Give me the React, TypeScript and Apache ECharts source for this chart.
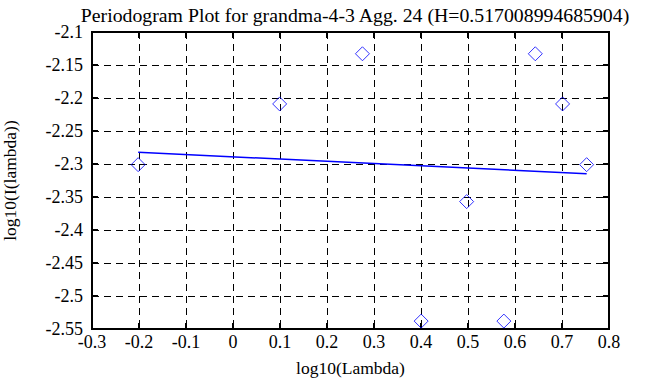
import React, { useEffect, useRef } from "react";
import * as echarts from "echarts";

const titleText = "Periodogram Plot for grandma-4-3 Agg. 24 (H=0.517008994685904)";
const xName = "log10(Lambda)";
const yName = "log10(I(lambda))";

const logLambda = [-0.2018, 0.0993, 0.2754, 0.4003, 0.4971, 0.5763, 0.6432, 0.7012, 0.7524];
const logPeriodogram = [-2.301, -2.209, -2.133, -2.538, -2.357, -2.538, -2.133, -2.209, -2.301];

const fitX = [-0.2018, 0.7524];
const fitY = [-2.2823, -2.3147];

const FONT = "Liberation Serif";

export default function App() {
  const ref = useRef<HTMLDivElement>(null);
  useEffect(() => {
    if (!ref.current) return;
    const chart = echarts.init(ref.current, undefined, { renderer: "svg" });
    const grid = { left: 92, right: 59, top: 32, bottom: 58 };
    const splitLine = { show: true, lineStyle: { color: "#000", width: 1, type: [7, 5] as any } };
    const axisLine = { show: true, onZero: false, lineStyle: { color: "#000", width: 2 } };
    const axisTick = { show: true, inside: true, length: 6, lineStyle: { color: "#000", width: 2 } };
    const labelStyle = { fontFamily: FONT, fontSize: 18, fontWeight: "normal", color: "#000" };
    chart.setOption({
      animation: false,
      backgroundColor: "#fff",
      textStyle: { fontFamily: FONT, color: "#000" },
      title: {
        text: titleText,
        left: 350,
        textAlign: "center",
        top: 0,
        textStyle: { fontFamily: FONT, fontSize: 19.8, fontWeight: "normal", color: "#000" },
      },
      grid: {
        ...grid,
        containLabel: false,
        outerBoundsMode: "none",
        show: true,
        borderColor: "#000",
        borderWidth: 2,
        backgroundColor: "transparent",
      },
      xAxis: [
        {
          type: "value",
          min: -0.3,
          max: 0.8,
          interval: 0.1,
          name: xName,
          nameLocation: "middle",
          nameGap: 30,
          nameTextStyle: { fontFamily: FONT, fontSize: 17.5, color: "#000" },
          axisLine,
          axisTick,
          axisLabel: {
            ...labelStyle,
            margin: 4,
            formatter: (v: number) => String(Math.round(v * 10) / 10),
          },
          splitLine,
        },
        {
          type: "value",
          position: "top",
          min: -0.3,
          max: 0.8,
          interval: 0.1,
          axisLine,
          axisTick,
          axisLabel: { show: false },
          splitLine: { show: false },
        },
      ],
      yAxis: [
        {
          type: "value",
          min: -2.55,
          max: -2.1,
          interval: 0.05,
          name: yName,
          nameLocation: "middle",
          nameGap: 73,
          nameTextStyle: { fontFamily: FONT, fontSize: 17.5, color: "#000" },
          axisLine,
          axisTick,
          axisLabel: {
            ...labelStyle,
            margin: 9,
            formatter: (v: number) => String(Math.round(v * 100) / 100),
          },
          splitLine,
        },
        {
          type: "value",
          position: "right",
          min: -2.55,
          max: -2.1,
          interval: 0.05,
          axisLine,
          axisTick,
          axisLabel: { show: false },
          splitLine: { show: false },
        },
      ],
      series: [
        {
          type: "scatter",
          data: logLambda.map((x, i) => [x, logPeriodogram[i]]),
          symbol: "diamond",
          symbolSize: 14,
          itemStyle: { color: "rgba(0,0,0,0)", borderColor: "#0000ff", borderWidth: 1 },
          z: 3,
        },
        {
          type: "line",
          data: fitX.map((x, i) => [x, fitY[i]]),
          showSymbol: false,
          symbol: "none",
          lineStyle: { color: "#0000ff", width: 1.5 },
          z: 4,
        },
      ],
    });
    return () => chart.dispose();
  }, []);
  return <div ref={ref} style={{ width: 668, height: 387, position: "absolute", left: 0, top: 0 }} />;
}
